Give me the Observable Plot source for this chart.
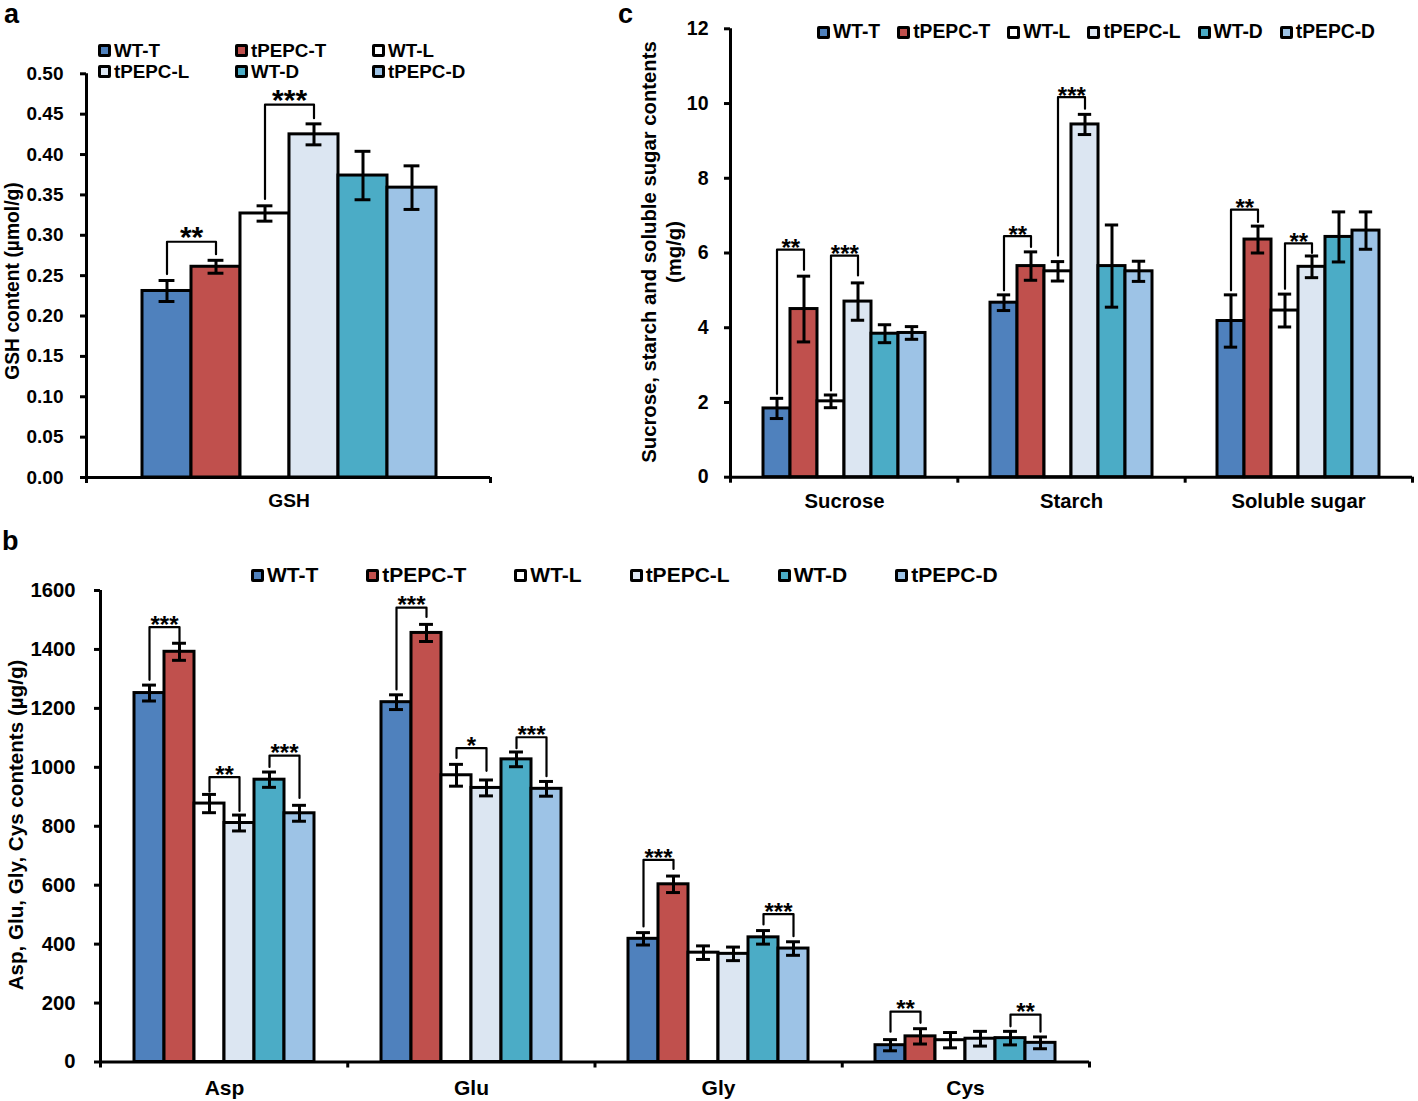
<!DOCTYPE html>
<html>
<head>
<meta charset="utf-8">
<script src="https://cdn.jsdelivr.net/npm/d3@7"></script>
<script src="https://cdn.jsdelivr.net/npm/@observablehq/plot@0.6"></script>
<style>
html, body { margin: 0; padding: 0; background: #fff; }
#fig { position: relative; width: 1418px; height: 1101px; overflow: hidden;
  font-family: "Liberation Sans", Arial, sans-serif; font-weight: bold; color: #000; }
.layer { position: absolute; }
.layer svg { display: block; overflow: visible; }
.rot { position: absolute; transform: translate(-50%, -50%) rotate(-90deg); white-space: nowrap; text-align: center; }
.letter { position: absolute; line-height: 1; }
.legend { position: absolute; display: flex; align-items: center; white-space: nowrap; }
.legend.grid { display: grid; grid-template-columns: 137px 137px 137px; grid-auto-rows: 21px; }
.item { display: flex; align-items: center; }
.sw { width: 7px; height: 7px; border: 3px solid #000; border-radius: 2px; margin-right: 3px; }
</style>
</head>
<body>
<div id="fig"></div>
<script>
// ---------- data ----------
const series = ["WT-T", "tPEPC-T", "WT-L", "tPEPC-L", "WT-D", "tPEPC-D"];
const seriesColors = ["#4F81BD", "#C0504D", "#FFFFFF", "#DCE6F2", "#4BACC6", "#9DC3E6"];

// panel a: GSH (µmol/g)
const gshGroups = ["GSH"];
const gshMeans = [[0.231, 0.261, 0.327, 0.425, 0.374, 0.359]];
const gshErrs  = [[0.013, 0.008, 0.0095, 0.013, 0.030, 0.027]];
const gshBrackets = [
  {group: "GSH", from: "WT-T", to: "tPEPC-T", y1: 0.252, top: 0.292, y2: 0.2765, label: "**"},
  {group: "GSH", from: "WT-L", to: "tPEPC-L", y1: 0.345, top: 0.4617, y2: 0.445, label: "***"}
];
const gshTicks = [0, 0.05, 0.10, 0.15, 0.20, 0.25, 0.30, 0.35, 0.40, 0.45, 0.50];

// panel b: amino acids (µg/g)
const aaGroups = ["Asp", "Glu", "Gly", "Cys"];
const aaMeans = [
  [1252, 1392, 877, 811, 958, 844],
  [1221, 1456, 973, 930, 1027, 927],
  [418, 603, 371, 367, 423, 385],
  [57, 87, 74, 79, 81, 65]
];
const aaErrs = [
  [27, 29, 31, 27, 26, 27],
  [25, 29, 37, 27, 25, 25],
  [21, 28, 23, 23, 23, 23],
  [19, 26, 26, 25, 23, 20]
];
const aaBrackets = [
  {group: "Asp", from: "WT-T", to: "tPEPC-T", y1: 1297, top: 1476, y2: 1427, label: "***"},
  {group: "Asp", from: "WT-L", to: "tPEPC-L", y1: 917, top: 967, y2: 852, label: "**"},
  {group: "Asp", from: "WT-D", to: "tPEPC-D", y1: 1001, top: 1040, y2: 896, label: "***"},
  {group: "Glu", from: "WT-T", to: "tPEPC-T", y1: 1264, top: 1542, y2: 1510, label: "***"},
  {group: "Glu", from: "WT-L", to: "tPEPC-L", y1: 1032, top: 1065, y2: 988, label: "*"},
  {group: "Glu", from: "WT-D", to: "tPEPC-D", y1: 1065, top: 1102, y2: 970, label: "***"},
  {group: "Gly", from: "WT-T", to: "tPEPC-T", y1: 460, top: 686, y2: 655, label: "***"},
  {group: "Gly", from: "WT-D", to: "tPEPC-D", y1: 467, top: 502, y2: 427, label: "***"},
  {group: "Cys", from: "WT-T", to: "tPEPC-T", y1: 103, top: 171, y2: 133, label: "**"},
  {group: "Cys", from: "WT-D", to: "tPEPC-D", y1: 121, top: 161, y2: 103, label: "**"}
];
const aaTicks = [0, 200, 400, 600, 800, 1000, 1200, 1400, 1600];

// panel c: sugars (mg/g)
const sugarGroups = ["Sucrose", "Starch", "Soluble sugar"];
const sugarMeans = [
  [1.84, 4.50, 2.03, 4.70, 3.84, 3.86],
  [4.67, 5.65, 5.51, 9.44, 5.65, 5.51],
  [4.18, 6.36, 4.46, 5.63, 6.43, 6.60]
];
const sugarErrs = [
  [0.27, 0.88, 0.17, 0.50, 0.24, 0.17],
  [0.21, 0.38, 0.26, 0.27, 1.10, 0.27],
  [0.70, 0.36, 0.44, 0.29, 0.67, 0.50]
];
const sugarBrackets = [
  {group: "Sucrose", from: "WT-T", to: "tPEPC-T", y1: 2.23, top: 6.09, y2: 5.55, label: "**"},
  {group: "Sucrose", from: "WT-L", to: "tPEPC-L", y1: 2.32, top: 5.93, y2: 5.40, label: "***"},
  {group: "Starch", from: "WT-T", to: "tPEPC-T", y1: 5.0, top: 6.45, y2: 6.16, label: "**"},
  {group: "Starch", from: "WT-L", to: "tPEPC-L", y1: 5.93, top: 10.17, y2: 9.86, label: "***"},
  {group: "Soluble sugar", from: "WT-T", to: "tPEPC-T", y1: 5.0, top: 7.16, y2: 6.83, label: "**"},
  {group: "Soluble sugar", from: "WT-L", to: "tPEPC-L", y1: 5.04, top: 6.26, y2: 6.0, label: "**"}
];
const sugarTicks = [0, 2, 4, 6, 8, 10, 12];

// ---------- drawing ----------
const FONT = "'Liberation Sans', Arial, sans-serif";
const fig = document.getElementById("fig");

function layer(el, left, top) {
  const d = document.createElement("div");
  d.className = "layer";
  d.style.left = left + "px";
  d.style.top = top + "px";
  d.appendChild(el);
  fig.appendChild(d);
}

function panel(cfg) {
  const {left, top, width, height, m, groups, means, errs, brackets, yDomain, yTicks, yFormat,
         tickFont, labelFont, tickPadding, fxPadding, starSize, starDy, cap} = cfg;
  const rows = groups.flatMap((g, gi) => series.map((s, si) => ({group: g, series: s, value: means[gi][si], err: errs[gi][si]})));
  const pts = brackets.flatMap((b, i) => [
    {id: i, group: b.group, x: b.from, y: b.y1},
    {id: i, group: b.group, x: b.from, y: b.top},
    {id: i, group: b.group, x: b.to, y: b.top},
    {id: i, group: b.group, x: b.to, y: b.y2}
  ]);
  const n = groups.length;
  const pin = 0.27;
  const frameW = width - m.left - m.right;
  const step = frameW / n;
  const sbw = step * (1 - pin) / series.length;
  const capInset = (sbw - cap) / 2;
  const common = {width, height, marginLeft: m.left, marginRight: m.right, marginTop: m.top, marginBottom: m.bottom};

  const main = Plot.plot({
    ...common,
    style: {fontFamily: FONT, fontWeight: "bold", fontSize: labelFont + "px", background: "transparent", color: "#000"},
    fx: {domain: groups, paddingInner: pin, paddingOuter: pin / 2, label: null, tickSize: 0, tickPadding: fxPadding},
    x: {domain: series, padding: 0, axis: null},
    y: {domain: yDomain, axis: null},
    color: {domain: series, range: seriesColors},
    marks: [
      Plot.barY(rows, {fx: "group", x: "series", y: "value", fill: "series", stroke: "#000", strokeWidth: 3}),
      Plot.ruleX(rows, {fx: "group", x: "series", y1: d => d.value - d.err, y2: d => d.value + d.err, stroke: "#000", strokeWidth: 3}),
      Plot.tickY(rows, {fx: "group", x: "series", y: d => d.value + d.err, stroke: "#000", strokeWidth: 3, insetLeft: capInset, insetRight: capInset}),
      Plot.tickY(rows, {fx: "group", x: "series", y: d => d.value - d.err, stroke: "#000", strokeWidth: 3, insetLeft: capInset, insetRight: capInset}),
      Plot.line(pts, {fx: "group", x: "x", y: "y", z: "id", stroke: "#000", strokeWidth: 2.2}),
      Plot.text(brackets, {fx: "group", x: "from", y: "top", text: "label", dx: sbw / 2, dy: starDy, fontSize: starSize, lineAnchor: "middle"})
    ]
  });

  const overlay = Plot.plot({
    ...common,
    style: {fontFamily: FONT, fontWeight: "bold", fontSize: tickFont + "px", background: "transparent", color: "#000"},
    x: {domain: [0, n]},
    y: {domain: yDomain},
    marks: [
      Plot.axisY({ticks: yTicks, tickFormat: yFormat, tickSize: 6, tickPadding, strokeWidth: 3, label: null}),
      Plot.axisX({ticks: d3.range(n + 1), tickSize: 6, tickFormat: () => "", strokeWidth: 3, label: null}),
      Plot.ruleX([0], {y1: yDomain[0], y2: yDomain[1], stroke: "#000", strokeWidth: 3}),
      Plot.ruleY([0], {stroke: "#000", strokeWidth: 3})
    ]
  });

  layer(main, left, top);
  layer(overlay, left, top);
}

panel({
  left: 0, top: 0, width: 560, height: 530, m: {left: 86, right: 70, top: 73.3, bottom: 53},
  groups: gshGroups, means: gshMeans, errs: gshErrs, brackets: gshBrackets,
  yDomain: [0, 0.5], yTicks: gshTicks, yFormat: d3.format(".2f"),
  tickFont: 19, labelFont: 19.2, tickPadding: 17, fxPadding: 16, starSize: 30, starDy: -4, cap: 16
});

panel({
  left: 620, top: 0, width: 798, height: 530, m: {left: 110, right: 6, top: 28.3, bottom: 53.3},
  groups: sugarGroups, means: sugarMeans, errs: sugarErrs, brackets: sugarBrackets,
  yDomain: [0, 12], yTicks: sugarTicks, yFormat: d3.format("d"),
  tickFont: 19.5, labelFont: 20.3, tickPadding: 16, fxPadding: 16, starSize: 24, starDy: -1, cap: 14
});

panel({
  left: 0, top: 530, width: 1100, height: 571, m: {left: 100, right: 11, top: 60, bottom: 39.5},
  groups: aaGroups, means: aaMeans, errs: aaErrs, brackets: aaBrackets,
  yDomain: [0, 1600], yTicks: aaTicks, yFormat: d3.format("d"),
  tickFont: 20.2, labelFont: 21, tickPadding: 19, fxPadding: 18, starSize: 24, starDy: -2, cap: 14
});

// ---------- text: titles, letters, legends ----------
function addDiv(cls, html, styles) {
  const d = document.createElement("div");
  d.className = cls;
  d.innerHTML = html;
  Object.assign(d.style, styles);
  fig.appendChild(d);
  return d;
}

addDiv("rot", "GSH content (µmol/g)", {left: "13px", top: "281px", fontSize: "19.3px"});
addDiv("rot", "Sucrose, starch and soluble sugar contents<br>(mg/g)", {left: "662px", top: "252px", fontSize: "20.3px", lineHeight: "25px"});
addDiv("rot", "Asp, Glu, Gly, Cys contents (µg/g)", {left: "16px", top: "825px", fontSize: "20.6px"});

addDiv("letter", "a", {left: "4px", top: "1px", fontSize: "27px"});
addDiv("letter", "c", {left: "618px", top: "1px", fontSize: "27px"});
addDiv("letter", "b", {left: "2px", top: "528px", fontSize: "27px"});

function legend(cls, styles, gapPx) {
  const d = addDiv(cls, "", styles);
  series.forEach((s, i) => {
    const it = document.createElement("div");
    it.className = "item";
    if (gapPx && i < series.length - 1) it.style.marginRight = gapPx + "px";
    const sw = document.createElement("div");
    sw.className = "sw";
    sw.style.background = seriesColors[i];
    const t = document.createElement("span");
    t.textContent = s;
    it.appendChild(sw);
    it.appendChild(t);
    d.appendChild(it);
  });
}

legend("legend grid", {left: "98px", top: "40px", fontSize: "18.8px"}, 0);
legend("legend", {left: "817px", top: "20px", height: "24px", fontSize: "19.3px"}, 17);
legend("legend", {left: "251px", top: "562px", height: "26px", fontSize: "21px"}, 48);
</script>
</body>
</html>
